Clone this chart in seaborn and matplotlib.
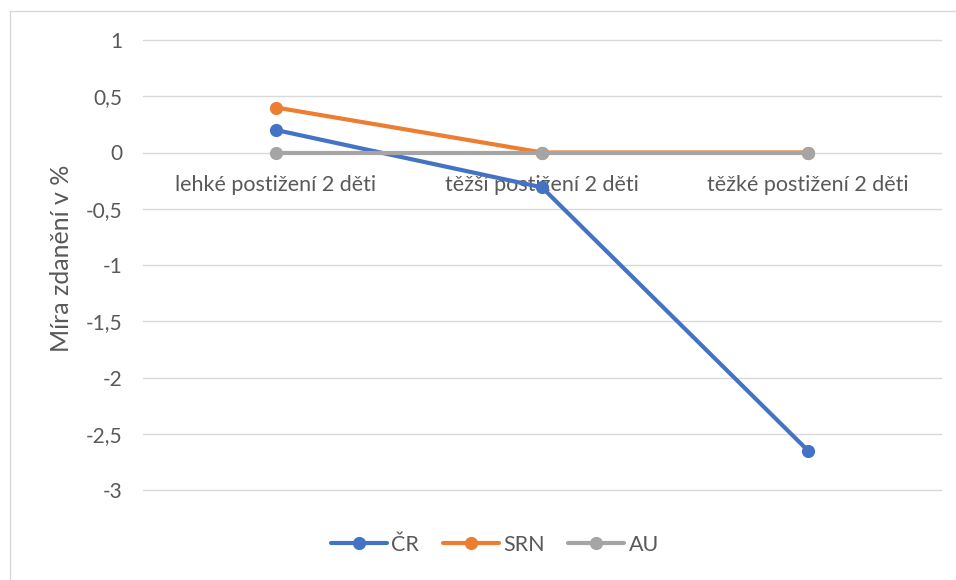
import pandas as pd
import matplotlib.pyplot as plt
from matplotlib.lines import Line2D
from matplotlib.ticker import FuncFormatter
import seaborn as sns

kategorie = ['lehké postižení 2 děti', 'těžší postižení 2 děti', 'těžké postižení 2 děti']
cr = [0.2, -0.31, -2.65]
srn = [0.4, 0.0, 0.0]
au = [0.0, 0.0, 0.0]
serie = ['ČR', 'SRN', 'AU']
barvy = ['#4472C4', '#ED7D31', '#A5A5A5']

df = pd.DataFrame({
    'kat': list(range(3)) * 3,
    'hodnota': cr + srn + au,
    'serie': [s for s in serie for _ in range(3)],
})

sns.set_style('white')
plt.rcParams['font.family'] = ['Lato', 'DejaVu Sans']

fig = plt.figure(figsize=(9.56, 5.8), dpi=100)
ax = fig.add_axes([143 / 956, 1 - 490 / 580, 798 / 956, 450 / 580])

sns.lineplot(data=df, x='kat', y='hodnota', hue='serie', hue_order=serie,
             palette=barvy, marker='o', markersize=9.5, markeredgewidth=0,
             linewidth=3, ax=ax)

ax.set_xlim(-0.5, 2.5)
ax.set_ylim(-3, 1)
ax.set_yticks([1, 0.5, 0, -0.5, -1, -1.5, -2, -2.5, -3])
ax.yaxis.set_major_formatter(FuncFormatter(lambda v, p: ('%g' % v).replace('.', ',')))
ax.grid(axis='y', color='#d9d9d9', linewidth=1)
for g in ax.yaxis.get_gridlines():
    g.set_clip_on(False)
ax.set_axisbelow(True)
for s in ['top', 'right', 'left']:
    ax.spines[s].set_visible(False)
ax.spines['bottom'].set_position(('data', 0))
ax.spines['bottom'].set_visible(False)
ax.set_xticks(range(3))
ax.set_xticklabels(kategorie)
ax.tick_params(axis='both', length=0, labelcolor='#595959')
ax.tick_params(axis='x', pad=16, labelsize=15.5)
ax.tick_params(axis='y', pad=15, labelsize=15)
ax.set_xlabel('')
ax.set_ylabel('Míra zdanění v %', fontsize=18, color='#595959')
ax.yaxis.set_label_coords((73 - 143) / 798, (490 - 258) / 450)

ax.legend(loc='center', bbox_to_anchor=(495 / 956, 1 - 545 / 580),
          bbox_transform=fig.transFigure, ncol=3, frameon=False,
          fontsize=15.5, labelcolor='#595959', handlelength=2.6,
          columnspacing=1.1, handletextpad=0.2)

fig.add_artist(Line2D([10 / 956, 10 / 956, 1], [0, 1 - 11 / 580, 1 - 11 / 580],
                      transform=fig.transFigure, color='#d9d9d9', linewidth=1))

fig.savefig('out.png', dpi=100)
